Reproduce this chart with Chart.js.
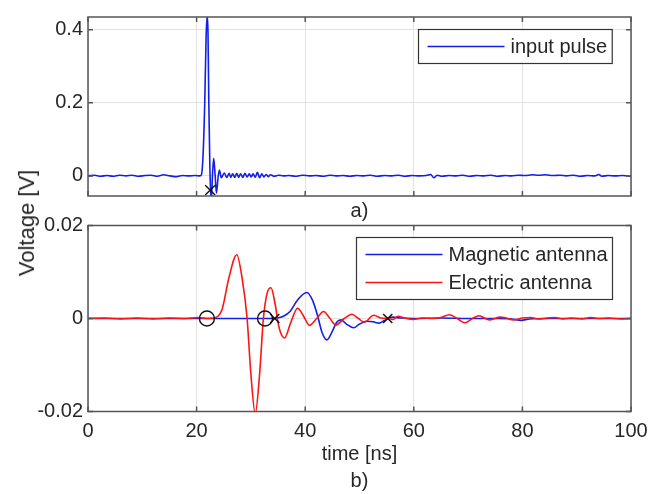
<!DOCTYPE html>
<html>
<head>
<meta charset="utf-8">
<script src="https://cdn.jsdelivr.net/npm/chart.js@4.4.1/dist/chart.umd.min.js"></script>
<style>
body { margin: 0; background: #fff; }
#wrap { position: relative; width: 667px; height: 494px; overflow: hidden; }
#wrap canvas { position: absolute; left: 0; }
#ylab {
    position: absolute; left: 27px; top: 223px;
    transform: translate(-50%, -50%) rotate(-90deg);
    font: 22px "Liberation Sans", Arial, sans-serif; color: #262626; white-space: nowrap;
}
</style>
</head>
<body>
<div id="wrap">
    <canvas id="top" width="667" height="224" style="top:0"></canvas>
    <canvas id="bottom" width="667" height="296" style="top:200px"></canvas>
    <div id="ylab">Voltage [V]</div>
</div>
<script>
// time axis ticks (ns) and voltage ticks (V)
var timeTicks = [0, 20, 40, 60, 80, 100];
var pulseTicks = [0, 0.2, 0.4];
var antennaTicks = [-0.02, 0, 0.02];

// a) input pulse
var pulseT = [0, 1.2, 2.3, 3.5, 4.6, 5.8, 7.0, 8.1, 9.3, 10.5, 11.6, 12.8, 13.9, 15.1, 16.3, 17.4, 18.6, 19.7,
    20.6, 20.9, 21.2, 21.5, 21.75, 21.95, 22.1, 22.25, 22.45, 22.7, 22.95, 23.15, 23.4, 23.65, 23.95, 24.2, 24.55,
    25.1, 25.55, 26.0, 26.3, 26.65, 27.0, 27.4, 27.75, 28.1, 28.5, 28.9, 29.3, 29.7, 30.05, 30.4, 30.8, 31.2, 31.6,
    32.0, 32.4, 32.8, 33.2, 33.6, 34.3, 35.1, 36.0, 37.0, 38.2, 39.5, 40.8, 42.0, 43.3, 44.5, 45.7, 47.0, 48.2,
    49.5, 50.8, 52.0, 53.3, 54.6, 55.9, 57.2, 58.4, 59.7, 61.0, 62.3, 63.1, 63.7, 64.3, 65.2, 66.5, 67.8, 69.0,
    70.3, 71.6, 72.9, 74.2, 75.5, 76.8, 78.0, 79.3, 80.5, 81.8, 83.0, 84.3, 85.6, 86.9, 88.1, 89.4, 90.7, 92.0,
    93.3, 94.1, 94.6, 95.8, 97.1, 98.4, 100];
var pulseV = [0, 0.002, -0.001, 0.001, -0.001, 0.002, 0, 0.002, -0.001, 0.001, 0.002, -0.001, 0.003, 0, -0.002, 0.001, 0, 0.001,
    0, 0.004, 0.06, 0.2, 0.38, 0.44, 0.39, 0.2, 0.02, -0.07, 0.01, 0.048, 0.005, -0.047, -0.005, 0.016, -0.005,
    0.008, -0.004, 0.007, -0.004, 0.006, -0.004, 0.007, -0.004, 0.006, -0.004, 0.007, -0.003, 0.006, -0.003, 0.006, -0.004, 0.01, -0.005,
    0.006, -0.003, 0.004, -0.002, 0.003, -0.001, 0.002, 0, 0.001, -0.001, 0.002, 0, 0.001, -0.001, 0.002, 0, 0.001, -0.001,
    0.001, 0, 0.002, -0.001, 0.001, 0, 0.002, -0.001, 0.001, 0, 0.001, 0.004, -0.005, 0.002, -0.001, 0.001, 0, 0.002,
    -0.001, 0.001, 0, 0.002, -0.001, 0.001, 0, 0.002, 0.001, 0.003, 0.002, 0.003, 0.001, 0.002, 0, 0.002, -0.001, 0.001,
    0, 0.004, -0.001, 0.001, 0, 0.001, -0.001];
var pulseMarkT = [22.5];
var pulseMarkV = [-0.039];

// b) antenna responses
var magT = [0, 10, 20, 30, 33.5, 34.8, 36.0, 37.2, 38.6, 40.3, 41.4, 42.3, 43.1, 44.0, 44.9, 45.8, 46.6, 47.6, 48.9,
    50.0, 51.3, 52.5, 53.6, 54.5, 55.2, 56.2, 57.5, 60, 65, 70, 75, 78, 79.8, 81.3, 85, 90, 95, 100];
var magV = [0, 0, 0, 0, 0, 0.0001, 0.0005, 0.0015, 0.004, 0.0056, 0.0038, 0.0005, -0.003, -0.0046, -0.003, -0.0008, -0.0003, -0.0012, -0.002,
    -0.0012, -0.0006, -0.0007, -0.001, -0.0005, 0, 0.0003, 0.0001, 0, 0.0001, 0, 0, -0.0001, -0.0004, -0.0001, 0, 0, 0, 0];
var elecT = [0, 3, 6, 9, 12, 15, 18, 20.2, 22, 23.5, 24.7, 25.9, 27.4, 28.4, 29.3, 30.0, 30.8, 31.6, 32.3, 33.0, 33.7,
    34.4, 35.2, 36.2, 37.3, 38.6, 39.7, 40.8, 42.1, 43.4, 44.5, 45.6, 47.2, 48.6, 49.8, 50.9, 52.6, 54.0, 55.3, 56.2,
    57.1, 58.3, 59.9, 61.5, 63.5, 65.0, 66.5, 68.0, 69.4, 70.8, 72.0, 73.0, 74.0, 75.9, 77.0, 78.3, 80.0, 81.5, 83,
    84.5, 86, 87.5, 89, 91, 92.5, 94, 96, 98, 100];
var elecV = [0, 0.0001, -0.0001, 0.0001, -0.0001, 0.0001, 0, 0.0002, 0, 0.0002, 0.002, 0.0085, 0.0137, 0.0085, 0, -0.012, -0.0205, -0.012, 0, 0.0055, 0.0066,
    0.0035, -0.002, -0.0042, -0.001, 0.0022, 0.0005, -0.0015, 0, 0.0015, 0.0001, -0.0014, 0, 0.0009, 0, -0.0008, 0.0007, 0.0001, 0, -0.0002,
    0.0005, 0.0001, -0.0002, 0.0001, 0, 0.0002, 0.0008, 0, -0.0009, 0, 0.0006, 0.0001, -0.0003, 0.0003, 0.0001, -0.0003, 0.0001, 0.0002, -0.0001,
    0.0001, 0.0002, -0.0001, 0.0001, -0.0001, 0.0002, 0, 0.0001, -0.0001, 0];
var onsetT = [21.9, 32.6];
var onsetV = [0, 0];
var endT = [34.4, 55.2];
var endV = [0, 0];

var fontFamily = '"Liberation Sans", Arial, sans-serif';
var textColor = '#262626';
var axisColor = '#555555';
var gridColor = '#e2e2e2';
var blue = 'rgb(20, 30, 235)';
var red = 'rgb(255, 20, 20)';

Chart.defaults.font.family = fontFamily;
Chart.defaults.font.size = 20;
Chart.defaults.color = textColor;

function points(xs, ys) {
    return xs.map(function (x, i) { return {x: x, y: ys[i]}; });
}

function fixTicks(values) {
    return function (scale) {
        scale.ticks = values.map(function (v) { return {value: v}; });
    };
}

// box around the plot area with inward tick marks, like matlab's "box on"
var frame = {
    id: 'frame',
    afterDraw: function (chart) {
        var a = chart.chartArea;
        var ctx = chart.ctx;
        var xs = chart.scales.x;
        var ys = chart.scales.y;
        ctx.save();
        ctx.strokeStyle = axisColor;
        ctx.lineWidth = 1.5;
        ctx.beginPath();
        xs.ticks.forEach(function (t) {
            var p = xs.getPixelForValue(t.value);
            ctx.moveTo(p, a.bottom); ctx.lineTo(p, a.bottom - 5);
            ctx.moveTo(p, a.top); ctx.lineTo(p, a.top + 5);
        });
        ys.ticks.forEach(function (t) {
            var p = ys.getPixelForValue(t.value);
            ctx.moveTo(a.left, p); ctx.lineTo(a.left + 5, p);
            ctx.moveTo(a.right, p); ctx.lineTo(a.right - 5, p);
        });
        ctx.stroke();
        ctx.strokeRect(a.left, a.top, a.right - a.left, a.bottom - a.top);
        ctx.restore();
    }
};

// framed legend in the upper right corner
var boxLegend = {
    id: 'boxLegend',
    afterDraw: function (chart, args, opts) {
        var ctx = chart.ctx;
        var items = chart.data.datasets.filter(function (d) { return d.inLegend; });
        ctx.save();
        ctx.font = '20px ' + fontFamily;
        var textW = 0;
        items.forEach(function (d) {
            textW = Math.max(textW, ctx.measureText(d.label).width);
        });
        var w = 9 + 77 + 6 + textW + 5;
        var h = 34 + 28 * (items.length - 1);
        var x0 = Math.round(chart.chartArea.right - 19 - w) + 0.5;
        var y0 = Math.round(chart.chartArea.top + opts.top) + 0.5;
        ctx.fillStyle = '#ffffff';
        ctx.fillRect(x0, y0, w, h);
        ctx.strokeStyle = '#333333';
        ctx.lineWidth = 1.2;
        ctx.strokeRect(x0, y0, w, h);
        ctx.textBaseline = 'middle';
        items.forEach(function (d, i) {
            var y = y0 + 17 + i * 28;
            ctx.strokeStyle = d.borderColor;
            ctx.lineWidth = 1.6;
            ctx.beginPath();
            ctx.moveTo(x0 + 9, y);
            ctx.lineTo(x0 + 86, y);
            ctx.stroke();
            ctx.fillStyle = textColor;
            ctx.fillText(d.label, x0 + 92, y + 1);
        });
        ctx.restore();
    }
};

function lineSet(label, xs, ys, color, order) {
    return {
        label: label,
        data: points(xs, ys),
        borderColor: color,
        borderWidth: 1.6,
        pointRadius: 0,
        cubicInterpolationMode: 'monotone',
        inLegend: true,
        order: order
    };
}

function markerSet(xs, ys, style, radius) {
    return {
        data: points(xs, ys),
        showLine: false,
        pointStyle: style,
        pointRadius: radius,
        pointBorderColor: '#111111',
        pointBackgroundColor: 'rgba(0,0,0,0)',
        pointBorderWidth: 1.4,
        order: 0
    };
}

function axes(yMin, yMax, yTicks, xHeight, xTitle, showXLabels, xTitleLine) {
    return {
        x: {
            type: 'linear',
            min: 0,
            max: 100,
            afterBuildTicks: fixTicks(timeTicks),
            afterFit: function (scale) { scale.height = xHeight; },
            grid: {color: gridColor, drawTicks: false},
            border: {display: false},
            ticks: {display: showXLabels, padding: 8},
            title: {
                display: true,
                text: xTitle,
                color: textColor,
                font: {size: 20, lineHeight: xTitleLine},
                padding: {top: 0, bottom: 1}
            }
        },
        y: {
            min: yMin,
            max: yMax,
            afterBuildTicks: fixTicks(yTicks),
            afterFit: function (scale) { scale.width = 88; },
            grid: {color: gridColor, drawTicks: false},
            border: {display: false},
            ticks: {padding: 5, callback: function (v) { return String(v); }}
        }
    };
}

new Chart(document.getElementById('top').getContext('2d'), {
    type: 'line',
    data: {
        datasets: [
            markerSet(pulseMarkT, pulseMarkV, 'crossRot', 7),
            lineSet('input pulse', pulseT, pulseV, blue, 1)
        ]
    },
    options: {
        responsive: false,
        animation: false,
        layout: {padding: {top: 9, right: 36, left: 0, bottom: 0}},
        scales: axes(-0.055, 0.435, pulseTicks, 28, 'a)', false, 1.2),
        plugins: {legend: {display: false}, tooltip: {enabled: false}, boxLegend: {top: 12}}
    },
    plugins: [frame, boxLegend]
});

new Chart(document.getElementById('bottom').getContext('2d'), {
    type: 'line',
    data: {
        datasets: [
            markerSet(onsetT, onsetV, 'circle', 7.5),
            markerSet(endT, endV, 'crossRot', 6.5),
            lineSet('Magnetic antenna', magT, magV, blue, 2),
            lineSet('Electric antenna', elecT, elecV, red, 1)
        ]
    },
    options: {
        responsive: false,
        animation: false,
        layout: {padding: {top: 25.5, right: 36, left: 0, bottom: 0}},
        scales: axes(-0.02, 0.02, antennaTicks, 84.5, ['time [ns]', 'b)'], true, 1.35),
        plugins: {legend: {display: false}, tooltip: {enabled: false}, boxLegend: {top: 11}}
    },
    plugins: [frame, boxLegend]
});
</script>
</body>
</html>
